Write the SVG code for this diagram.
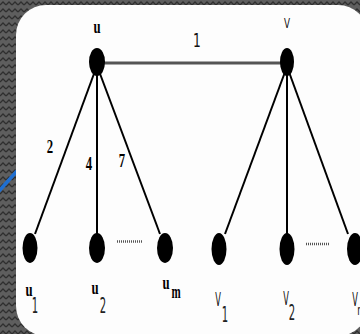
<svg xmlns="http://www.w3.org/2000/svg" width="360" height="334" viewBox="0 0 360 334">
<defs>
<pattern id="zig" width="6" height="7" patternUnits="userSpaceOnUse">
<rect width="6" height="7" fill="#5e5e5e"/>
<path d="M0,5 L3,2 L6,5" fill="none" stroke="#2f2f2f" stroke-width="1.3"/>
</pattern>
<clipPath id="clipView"><rect width="360" height="334"/></clipPath>
</defs>
<style>
.edge{stroke:#000;stroke-width:2;fill:none}
.main{stroke:#555;stroke-width:3;fill:none}
.dots{stroke:#555;stroke-width:2.5;stroke-dasharray:1,1;fill:none}
.node{fill:#000}
.lu{font-family:"Liberation Serif",serif;font-weight:bold;font-size:17px;fill:#000;text-anchor:middle}
.lv{font-family:"DejaVu Sans Condensed","DejaVu Sans",sans-serif;font-size:14px;fill:#111;text-anchor:middle}
.sub{font-family:"DejaVu Sans Condensed","DejaVu Sans",sans-serif;font-size:16px;fill:#222;text-anchor:middle}
.w{font-family:"Liberation Serif",serif;font-weight:bold;font-size:17px;fill:#000;text-anchor:middle}
.w1{font-family:"DejaVu Sans Condensed","DejaVu Sans",sans-serif;font-size:17px;fill:#111;text-anchor:middle}
</style>
<rect width="360" height="334" fill="url(#zig)"/>
<line x1="-2" y1="192" x2="17" y2="171" stroke="#1f6fd1" stroke-width="3.5"/>
<rect x="16" y="5" width="352" height="331" rx="30" ry="30" fill="#fdfdfd" clip-path="url(#clipView)"/>
<g id="connectors">
<line class="main" x1="104" y1="63" x2="281" y2="63"/>
<line class="edge" x1="95" y1="71" x2="35" y2="234"/>
<line class="edge" x1="97" y1="72" x2="97" y2="234"/>
<line class="edge" x1="99" y1="71" x2="160" y2="234"/>
<line class="edge" x1="285" y1="72" x2="225" y2="234"/>
<line class="edge" x1="287" y1="72" x2="287" y2="234"/>
<line class="edge" x1="289" y1="72" x2="348" y2="234"/>
<text class="w1" transform="translate(197,47) scale(0.8,1.1)">1</text>
<text class="w" transform="translate(50,153) scale(0.75,1.1)">2</text>
<text class="w" transform="translate(89,170) scale(0.75,1.1)">4</text>
<text class="w" transform="translate(122,167) scale(0.75,1.1)">7</text>
<line class="dots" x1="117" y1="241.5" x2="142" y2="241.5"/>
<line class="dots" x1="306" y1="244" x2="330" y2="244"/>
</g>
<g id="node-u">
<ellipse class="node" cx="97" cy="62" rx="8" ry="14"/>
<text class="lu" transform="translate(97,33) scale(0.75,1.1)">u</text>
</g>
<g id="node-v">
<ellipse class="node" cx="287" cy="62" rx="7" ry="14"/>
<text class="lv" transform="translate(287,28) scale(0.7,1.05)">V</text>
</g>
<g id="node-u1">
<ellipse class="node" cx="30" cy="248" rx="7.5" ry="15"/>
<text class="lu" transform="translate(29,296) scale(0.75,1.1)">u</text>
<text class="sub" transform="translate(35,313) scale(0.7,1.35)">1</text>
</g>
<g id="node-u2">
<ellipse class="node" cx="97" cy="248" rx="8" ry="15"/>
<text class="lu" transform="translate(95,294) scale(0.75,1.1)">u</text>
<text class="sub" transform="translate(103,313) scale(0.7,1.35)">2</text>
</g>
<g id="node-um">
<ellipse class="node" cx="165" cy="248" rx="8" ry="15"/>
<text class="lu" transform="translate(166,289) scale(0.75,1.1)">u</text>
<text class="lu" transform="translate(176,298) scale(0.65,1.1)">m</text>
</g>
<g id="node-v1">
<ellipse class="node" cx="219" cy="249" rx="7.5" ry="16"/>
<text class="lv" transform="translate(218,306) scale(0.65,1.4)">V</text>
<text class="sub" transform="translate(225,322) scale(0.7,1.35)">1</text>
</g>
<g id="node-v2">
<ellipse class="node" cx="287" cy="249" rx="7.5" ry="16"/>
<text class="lv" transform="translate(286,305) scale(0.65,1.4)">V</text>
<text class="sub" transform="translate(292,320) scale(0.7,1.35)">2</text>
</g>
<g id="node-vn">
<ellipse class="node" cx="355" cy="249" rx="8" ry="16"/>
<text class="lv" transform="translate(355,306) scale(0.65,1.4)">V</text>
<text class="lv" transform="translate(360,315) scale(0.7,1)">n</text>
</g>
</svg>
